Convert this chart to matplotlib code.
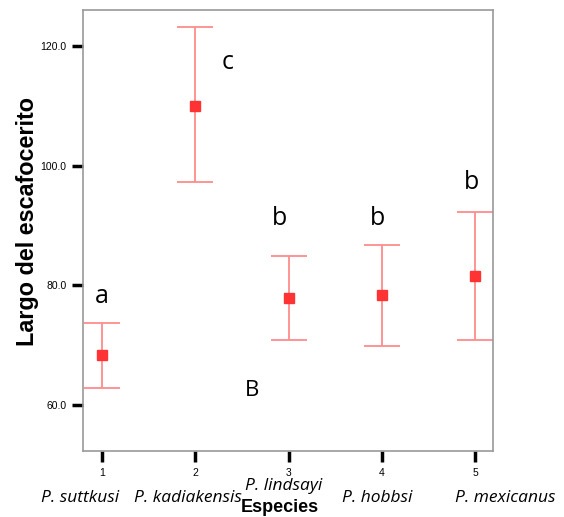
import matplotlib
matplotlib.use("Agg")
import matplotlib.pyplot as plt

x = [1, 2, 3, 4, 5]
means = [68.4, 110.0, 77.8, 78.3, 81.5]
upper = [73.7, 123.2, 84.9, 86.7, 92.2]
lower = [62.8, 97.2, 70.8, 69.8, 70.8]
species = ["P. suttkusi", "P. kadiakensis", "P. lindsayi", "P. hobbsi", "P. mexicanus"]
letters = ["a", "c", "b", "b", "b"]
letter_pos = [(1.0, 78.2), (2.35, 117.2), (2.9, 91.2), (3.95, 91.2), (4.96, 97.2)]
yticks = [60.0, 80.0, 100.0, 120.0]

fig = plt.figure(figsize=(5.64, 5.17), dpi=100)
ax = fig.add_axes([83/564, (517-451)/517, 410/564, 441/517])

yerr = [[m - l for m, l in zip(means, lower)], [u - m for u, m in zip(upper, means)]]
eb = ax.errorbar(x, means, yerr=yerr, fmt='none', ecolor='#ff8c8c', elinewidth=1.3,
                 capsize=13, capthick=1.3)
for cl in eb[1]:
    cl.set_color('#ff6666')
ax.plot(x, means, 's', color='#ff3333', markersize=7.5, linestyle='none')

ax.set_xlim(0.796, 5.19)
ax.set_ylim(52.3, 126.0)
ax.set_xticks(x)
ax.set_xticklabels([str(i) for i in x], fontsize=7.5, family='Liberation Sans')
ax.set_yticks(yticks)
ax.set_yticklabels(["%.1f" % v for v in yticks], fontsize=7.5, family='Liberation Sans')
ax.tick_params(axis='both', direction='out', length=8, width=2.5, color='black', pad=4)
for s in ax.spines.values():
    s.set_color('#999999')
    s.set_linewidth(1.2)

for (lx, ly), t in zip(letter_pos, letters):
    ax.text(lx, ly, t, fontsize=18, family='Open Sans', ha='center', va='center')
ax.text(2.61, 62.4, "B", fontsize=16, family='Open Sans', ha='center', va='center')

fig.text(28/564, 1 - 222/517, "Largo del escafocerito", fontsize=16.8, fontweight='bold',
         family='Liberation Sans', rotation=90, ha='center', va='center')

sp_y = [498, 498, 486, 498, 498]
sp_x = [80, 188, 284, 377, 505]
for sx, sy, name in zip(sp_x, sp_y, species):
    fig.text(sx/564, 1 - sy/517, name, fontsize=12.5, style='italic', family='Open Sans',
             ha='center', va='center')
fig.text(280/564, 1 - 508/517, "Especies", fontsize=13, fontweight='bold',
         family='Liberation Sans', ha='center', va='center')

fig.savefig("out.png", dpi=100)
